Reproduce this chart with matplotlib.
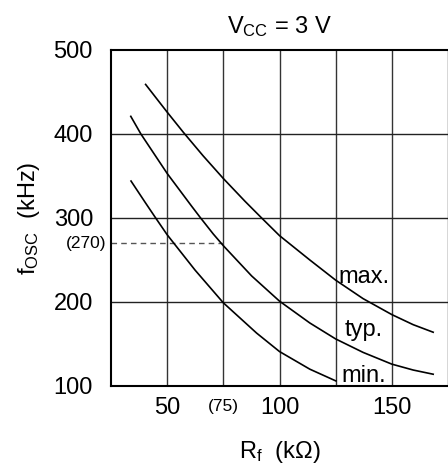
import matplotlib.pyplot as plt
import numpy as np

plt.rcParams['font.family'] = ['Liberation Sans', 'DejaVu Sans']
plt.rcParams['mathtext.fontset'] = 'custom'
plt.rcParams['mathtext.rm'] = 'Liberation Sans'
plt.rcParams['mathtext.it'] = 'Liberation Sans:italic'

# curves: R_f (kOhm) vs f_OSC (kHz)
r_max = [40.4, 50, 57.2, 66, 75, 84.6, 91.3, 100, 113.5, 125, 137.2, 150, 159.5, 168.4]
f_max = [459, 426, 402, 374, 347, 320, 302, 279, 250, 226, 204, 185, 173, 164]
r_typ = [33.8, 38.3, 50, 60.9, 64.6, 70.5, 75, 87.6, 100, 113.5, 125, 137.2, 150, 159.5, 168.4]
f_typ = [421, 400, 353, 314, 301, 281, 267, 231, 201, 175, 156, 140, 126, 119, 114]
r_min = [33.9, 40.1, 44.5, 50, 62.4, 75, 89.8, 100, 113.5, 125.1]
f_min = [344, 319, 301.5, 280, 238, 199, 163, 141, 120, 106]

x_ticks = [50, 100, 150]
y_ticks = [100, 200, 300, 400, 500]
marker_f = 270
marker_r = 75

fig = plt.figure(figsize=(4.48, 4.69), dpi=100)
ax = fig.add_axes([0.2478, 0.177, 0.7522, 0.7164])

# grid
for xv in [50, 75, 100, 125, 150, 175]:
    ax.axvline(xv, color='#333333', lw=1.0, zorder=1)
for yv in [200, 300, 400]:
    ax.axhline(yv, color='#222222', lw=1.0, zorder=1)

ax.plot(r_max, f_max, color='black', lw=1.2, zorder=3)
ax.plot(r_typ, f_typ, color='black', lw=1.2, zorder=3)
ax.plot(r_min, f_min, color='black', lw=1.2, zorder=3)

# dashed marker at 270 kHz / 75 kOhm
ax.plot([25, marker_r], [marker_f, marker_f], color='#555555', lw=1.0,
        ls=(0, (4, 3)), zorder=2)
ax.annotate('(270)', xy=(0, marker_f), xycoords=('axes fraction', 'data'),
            xytext=(-3, 0), textcoords='offset points', ha='right', va='center',
            fontsize=12.5)
ax.annotate('(75)', xy=(marker_r, 0), xycoords=('data', 'axes fraction'),
            xytext=(0, -14.5), textcoords='offset points', ha='center', va='center',
            fontsize=12.5)

ax.text(137.5, 223, 'max.', ha='center', va='baseline', fontsize=17)
ax.text(137.5, 159, 'typ.', ha='center', va='baseline', fontsize=17)
ax.text(137.5, 105, 'min.', ha='center', va='baseline', fontsize=17)

ax.set_xlim(25, 175)
ax.set_ylim(100, 500)
ax.set_xticks(x_ticks)
ax.set_yticks(y_ticks)
ax.tick_params(length=0, labelsize=17)
ax.tick_params(axis='y', pad=13)
ax.tick_params(axis='x', pad=8)

for s in ['left', 'bottom', 'top']:
    ax.spines[s].set_linewidth(1.5)
ax.spines['right'].set_visible(False)

ax.set_title(r'$\mathrm{V_{CC}}$ = 3 V', fontsize=17, pad=12)
ax.set_ylabel(r'f$_\mathrm{OSC}$  (kHz)', fontsize=17, labelpad=8)
ax.set_xlabel(r'R$_\mathrm{f}$  (k$\Omega$)', fontsize=17, labelpad=14)

fig.savefig('out.png', dpi=100)
